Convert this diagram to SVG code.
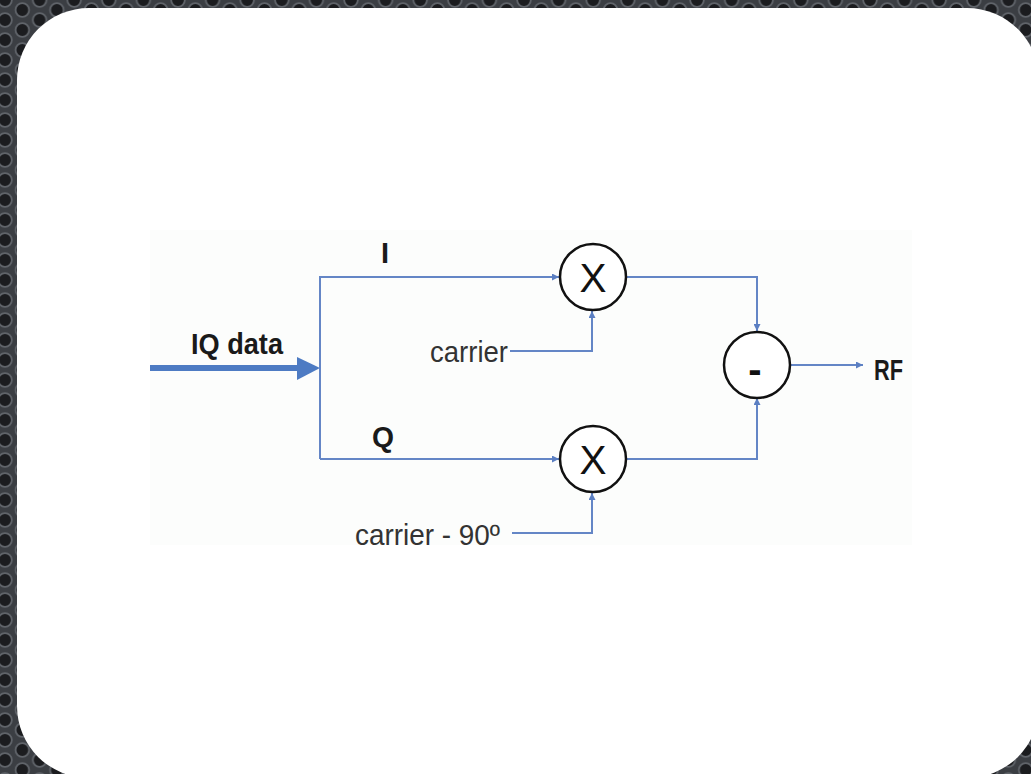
<svg xmlns="http://www.w3.org/2000/svg" width="1031" height="774" viewBox="0 0 1031 774">
<defs>
<pattern id="holes" x="5" y="0" width="34.6" height="20" patternUnits="userSpaceOnUse">
<rect width="34.6" height="20" fill="#3b3e43"/>
<g fill="#1b1c1f" stroke="#60646a" stroke-width="1.8">
<circle cx="0" cy="0" r="6.8"/><circle cx="34.6" cy="0" r="6.8"/>
<circle cx="0" cy="20" r="6.8"/><circle cx="34.6" cy="20" r="6.8"/>
<circle cx="17.3" cy="10" r="6.8"/>
</g>
</pattern>
<marker id="sa" viewBox="0 0 8 8" refX="8" refY="4" markerWidth="7" markerHeight="7" markerUnits="userSpaceOnUse" orient="auto">
<path d="M0,0 L8,4 L0,8 z" fill="#5b7fc2"/>
</marker>
<style>
.ln{fill:none;stroke:#6486c6;stroke-width:2}
.node{fill:#ffffff;stroke:#111;stroke-width:2.5}
.sym{font-family:"Liberation Sans",Arial,sans-serif;fill:#111;text-anchor:middle}
.lbl{font-family:"Liberation Sans",Arial,sans-serif;font-weight:bold;font-size:29px;fill:#1a1a1a}
.txt{font-family:"Liberation Sans",Arial,sans-serif;font-size:29px;fill:#333}
</style>
</defs>
<rect width="1031" height="774" fill="url(#holes)"/>
<rect x="17" y="8" width="1022" height="770" rx="72" ry="72" fill="#ffffff"/>
<rect x="150" y="230" width="762" height="315" fill="#fcfdfc"/>

<g id="connectors">
<line x1="150" y1="368" x2="299" y2="368" stroke="#4d7bc3" stroke-width="6"/>
<path d="M297,357 L320,368 L297,380 z" fill="#4d7bc3"/>
<path class="ln" d="M320,459 L320,277 L559,277" marker-end="url(#sa)"/>
<path class="ln" d="M320,459 L559,459" marker-end="url(#sa)"/>
<path class="ln" d="M510,351 L592,351 L592,311" marker-end="url(#sa)"/>
<path class="ln" d="M512,533 L592,533 L592,493" marker-end="url(#sa)"/>
<path class="ln" d="M626,277 L757,277 L757,331" marker-end="url(#sa)"/>
<path class="ln" d="M626,459 L757,459 L757,398" marker-end="url(#sa)"/>
<path class="ln" d="M790,365 L863,365" marker-end="url(#sa)"/>
</g>

<g id="iq-data"><text class="lbl" x="191" y="354" textLength="92" lengthAdjust="spacingAndGlyphs">IQ data</text></g>
<g id="label-i"><text class="lbl" x="381" y="263">I</text></g>
<g id="label-q"><text class="lbl" x="372" y="447" textLength="22" lengthAdjust="spacingAndGlyphs">Q</text></g>
<g id="carrier"><text class="txt" x="430" y="362" textLength="78" lengthAdjust="spacingAndGlyphs">carrier</text></g>
<g id="carrier-90"><text class="txt" x="355" y="545" textLength="145" lengthAdjust="spacingAndGlyphs">carrier - 90º</text></g>
<g id="mult-i"><circle class="node" cx="593" cy="277" r="33"/><text class="sym" x="593" y="292" font-size="41" textLength="27" lengthAdjust="spacingAndGlyphs">X</text></g>
<g id="mult-q"><circle class="node" cx="593" cy="459" r="33"/><text class="sym" x="593" y="474" font-size="41" textLength="27" lengthAdjust="spacingAndGlyphs">X</text></g>
<g id="subtract"><circle class="node" cx="757" cy="365" r="33"/><text class="sym" x="755" y="383" font-size="40" font-weight="bold">-</text></g>
<g id="rf"><text class="lbl" x="874" y="380" textLength="29" lengthAdjust="spacingAndGlyphs">RF</text></g>
</svg>
